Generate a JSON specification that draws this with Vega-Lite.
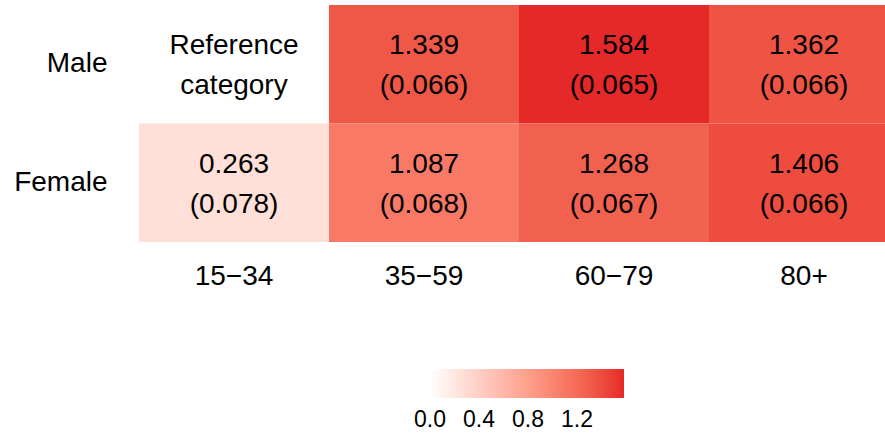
{
  "$schema": "https://vega.github.io/schema/vega-lite/v6.json",
  "width": 760,
  "height": 237,
  "padding": {"left": 5, "top": 5, "right": 5, "bottom": 5},
  "background": "white",
  "config": {
    "view": {"stroke": null},
    "font": "Liberation Sans",
    "axis": {"domain": false, "ticks": false, "grid": false, "title": null, "labelColor": "black", "labelFont": "Liberation Sans"}
  },
  "data": {
    "values": [
      {"sex": "Male", "age": "15−34", "value": 0, "label": ["Reference", "category"]},
      {"sex": "Male", "age": "35−59", "value": 1.339, "label": ["1.339", "(0.066)"]},
      {"sex": "Male", "age": "60−79", "value": 1.584, "label": ["1.584", "(0.065)"]},
      {"sex": "Male", "age": "80+", "value": 1.362, "label": ["1.362", "(0.066)"]},
      {"sex": "Female", "age": "15−34", "value": 0.263, "label": ["0.263", "(0.078)"]},
      {"sex": "Female", "age": "35−59", "value": 1.087, "label": ["1.087", "(0.068)"]},
      {"sex": "Female", "age": "60−79", "value": 1.268, "label": ["1.268", "(0.067)"]},
      {"sex": "Female", "age": "80+", "value": 1.406, "label": ["1.406", "(0.066)"]}
    ]
  },
  "encoding": {
    "x": {"field": "age", "type": "nominal", "sort": ["15−34", "35−59", "60−79", "80+"],
      "scale": {"paddingInner": 0, "paddingOuter": 0},
      "axis": {"labelAngle": 0, "labelFontSize": 28, "labelPadding": 20, "orient": "bottom"}},
    "y": {"field": "sex", "type": "nominal", "sort": ["Male", "Female"],
      "scale": {"paddingInner": 0, "paddingOuter": 0},
      "axis": {"labelFontSize": 28, "labelPadding": 32, "minExtent": 134, "maxExtent": 134}}
  },
  "layer": [
    {
      "mark": {"type": "rect"},
      "encoding": {
        "fill": {"field": "value", "type": "quantitative",
          "scale": {"domain": [0, 1.584], "range": ["#FFFFFF", "#E52828"], "interpolate": "lab"},
          "legend": {"orient": "none", "legendX": 291, "legendY": 364, "direction": "horizontal",
            "title": null, "gradientLength": 194, "gradientThickness": 29, "values": [0, 0.4, 0.8, 1.2],
            "labelFontSize": 23, "labelColor": "black", "labelAlign": "center", "labelOffset": 11,
            "format": ".1f", "gradientStrokeWidth": 0, "labelOverlap": false,
            "encode": {"labels": {"update": {"align": {"value": "center"}}}}}
        }
      }
    },
    {
      "mark": {"type": "text", "fontSize": 28, "lineHeight": 40, "baseline": "middle", "align": "center", "dy": -18, "color": "black", "font": "Liberation Sans"},
      "encoding": {"text": {"field": "label"}}
    }
  ]
}
